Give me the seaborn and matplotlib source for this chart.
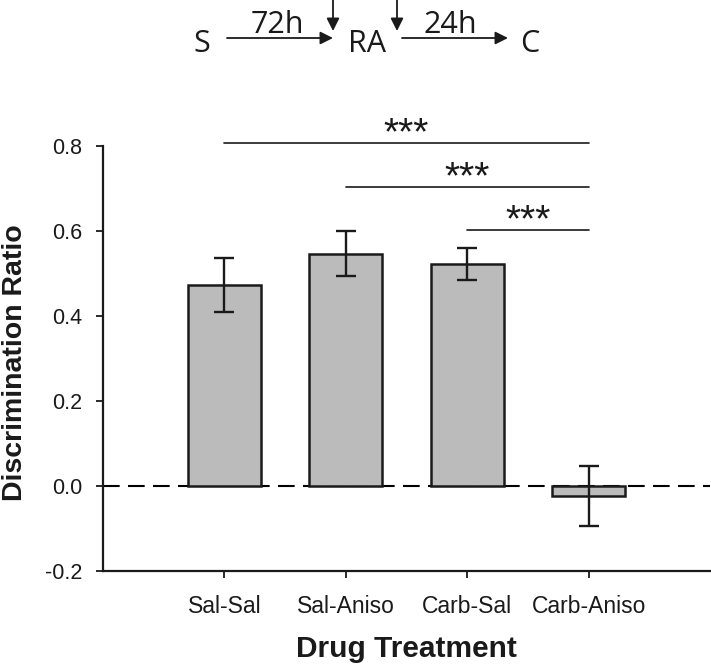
import matplotlib
matplotlib.use("Agg")
import matplotlib.pyplot as plt
import seaborn as sns
from matplotlib.patches import FancyArrowPatch

# ---- data ----
categories = ["Sal-Sal", "Sal-Aniso", "Carb-Sal", "Carb-Aniso"]
means = [0.473, 0.547, 0.522, -0.024]
errors = [0.064, 0.054, 0.038, 0.070]
yticks = [-0.2, 0.0, 0.2, 0.4, 0.6, 0.8]
ytick_labels = ["-0.2", "0.0", "0.2", "0.4", "0.6", "0.8"]
sig_from = [0, 1, 2]
sig_to = [3, 3, 3]
sig_level = [0.807, 0.704, 0.602]
sig_labels = ["***", "***", "***"]

sns.set_theme(style="ticks")
plt.rcParams["font.family"] = ["Liberation Sans", "DejaVu Sans"]

W, H = 711, 664
fig = plt.figure(figsize=(W / 100, H / 100), dpi=100)
ax = fig.add_axes([103 / W, (H - 571) / H, (710 - 103) / W, (571 - 146) / H])

ax.axhline(0, color="black", lw=1.5, ls=(0, (8, 4)), zorder=0.5)
sns.barplot(x=categories, y=means, color="#bbbbbb", saturation=1,
            edgecolor="#1a1a1a", linewidth=1.8, width=0.6, ax=ax, zorder=2)
ax.errorbar(range(len(categories)), means, yerr=errors, fmt="none",
            ecolor="#1a1a1a", elinewidth=1.7, capsize=7, capthick=1.7, zorder=3)

ax.set_xlim(-1, 4)
ax.set_ylim(-0.2, 0.8)
ax.set_yticks(yticks)
ax.set_yticklabels(ytick_labels)
ax.tick_params(axis="both", width=1.3, length=5, color="#1a1a1a",
               labelcolor="#1a1a1a", direction="out")
ax.tick_params(axis="y", pad=10, labelsize=15.5)
ax.tick_params(axis="x", pad=12, labelsize=16.5)
for s in ["top", "right"]:
    ax.spines[s].set_visible(False)
for s in ["left", "bottom"]:
    ax.spines[s].set_linewidth(1.6)
    ax.spines[s].set_color("#1a1a1a")

ax.set_xlabel("Drug Treatment", fontsize=21.5, fontweight="bold",
              color="#1a1a1a")
ax.xaxis.set_label_coords((1.5 + 1) / 5, -0.15)
ax.set_ylabel("Discrimination Ratio", fontsize=20.5, fontweight="bold",
              color="#1a1a1a")
ax.yaxis.set_label_coords(-0.123, 0.49)

# significance bars
for a, b, lvl, lab in zip(sig_from, sig_to, sig_level, sig_labels):
    ax.plot([a, b], [lvl, lvl], color="#1a1a1a", lw=1.2, clip_on=False)
    ax.text((a + b) / 2, lvl - 0.003, lab, ha="center", va="baseline",
            fontsize=28, color="#1a1a1a", clip_on=False)

# schematic at top
dfont = ["Open Sans", "DejaVu Sans"]
def fx(x):
    return x / W
def fy(y):
    return 1 - y / H

for txt, x, y in [("S", 202, 52), ("RA", 367, 52), ("C", 530, 52),
                  ("72h", 277, 33), ("24h", 450, 33)]:
    fig.text(fx(x), fy(y), txt, ha="center", va="baseline", fontsize=22,
             family=dfont, color="#1a1a1a")

for (x0, y0, x1, y1) in [(227, 38, 333, 38), (402, 38, 508, 38),
                         (333, -2, 333, 31), (397, -2, 397, 31)]:
    arr = FancyArrowPatch((fx(x0), fy(y0)), (fx(x1), fy(y1)),
                          transform=fig.transFigure, arrowstyle="-|>",
                          mutation_scale=19, lw=1.3, color="#1a1a1a",
                          shrinkA=0, shrinkB=0)
    fig.patches.append(arr)

fig.savefig("out.png", dpi=100)
